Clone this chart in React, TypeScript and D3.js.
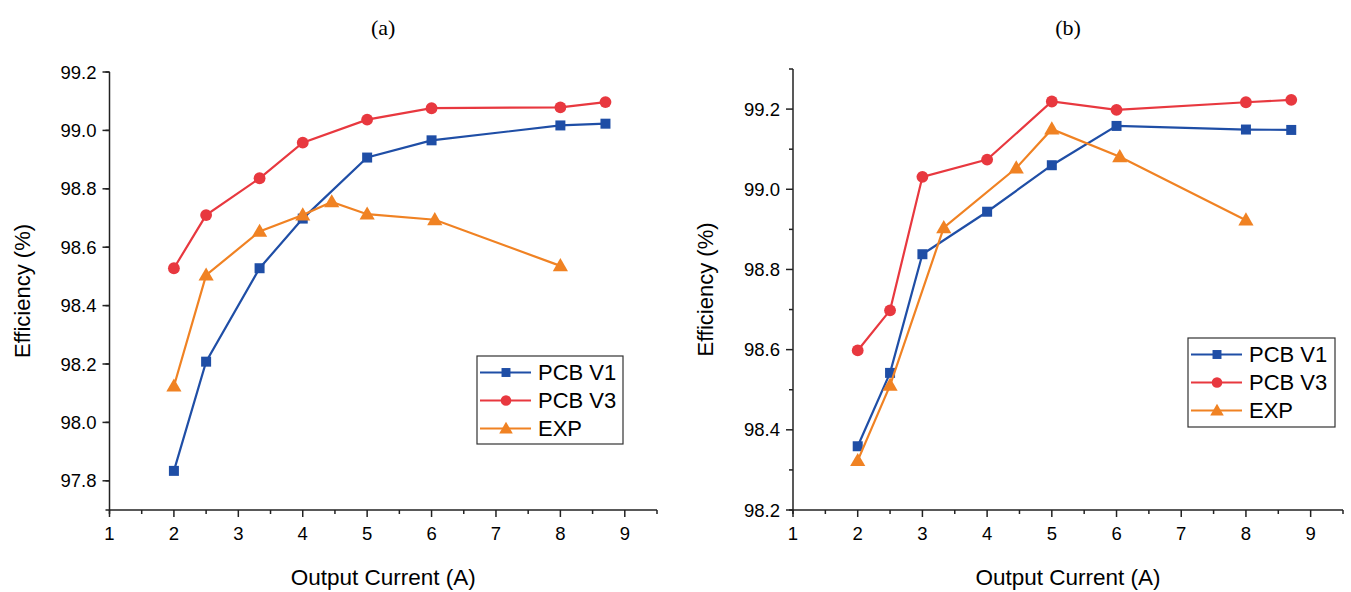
import React from "react";
import * as d3 from "d3";

// panel (a)
const aV1X = [2, 2.5, 3.33, 4, 5, 6, 8, 8.7];
const aV1Y = [97.834, 98.208, 98.528, 98.698, 98.907, 98.966, 99.017, 99.023];
const aV3X = [2, 2.5, 3.33, 4, 5, 6, 8, 8.7];
const aV3Y = [98.528, 98.71, 98.836, 98.958, 99.037, 99.076, 99.079, 99.097];
const aExpX = [2, 2.5, 3.33, 4, 4.45, 5, 6.05, 8];
const aExpY = [98.124, 98.504, 98.654, 98.71, 98.755, 98.713, 98.694, 98.536];

// panel (b)
const bV1X = [2, 2.5, 3, 4, 5, 6, 8, 8.7];
const bV1Y = [98.359, 98.542, 98.838, 98.944, 99.06, 99.158, 99.149, 99.148];
const bV3X = [2, 2.5, 3, 4, 5, 6, 8, 8.7];
const bV3Y = [98.598, 98.698, 99.031, 99.074, 99.219, 99.198, 99.217, 99.223];
const bExpX = [2, 2.5, 3.33, 4.45, 5, 6.05, 8];
const bExpY = [98.323, 98.511, 98.904, 99.053, 99.15, 99.081, 98.923];

const xTicks = [1, 2, 3, 4, 5, 6, 7, 8, 9];
const aYTicks = [97.8, 98.0, 98.2, 98.4, 98.6, 98.8, 99.0, 99.2];
const bYTicks = [98.2, 98.4, 98.6, 98.8, 99.0, 99.2];
const seriesNames = ["PCB V1", "PCB V3", "EXP"];

const BLUE = "#1f4ea6";
const RED = "#e8383f";
const ORANGE = "#f08223";
const FONT = "'Liberation Sans', Arial, sans-serif";

const shapes = [d3.symbolSquare, d3.symbolCircle, d3.symbolTriangle];
const sizes = [100, 110, 100];
const colors = [BLUE, RED, ORANGE];

const Marker = ({ i, x, y, scale = 1 }) => {
  const path = d3.symbol().type(shapes[i]).size(sizes[i] * scale)();
  const dy = i === 2 ? 1 : 0;
  return <path d={path} transform={`translate(${x},${y + dy})`} fill={colors[i]} />;
};

const Panel = ({ title, x0, x1, y0, y1, yDomain, yTicks, series, legend }) => {
  const x = d3.scaleLinear().domain([1, 9.5]).range([x0, x1]);
  const y = d3.scaleLinear().domain(yDomain).range([y0, y1]);

  const minorX = d3.range(1.5, 9.51, 1);
  const minorY = d3.range(yDomain[0] + 0.1, yDomain[1] + 0.001, 0.2);

  const line = d3
    .line()
    .x((d) => x(d[0]))
    .y((d) => y(d[1]));

  const cx = (x0 + x1) / 2;

  return (
    <g>
      <text x={cx} y={35} textAnchor="middle" fontFamily="'Liberation Serif', 'Times New Roman', serif" fontSize={22}>
        {title}
      </text>

      {/* axes */}
      <line x1={x0 - 4} x2={x1} y1={y0} y2={y0} stroke="#222" strokeWidth={1.5} />
      <line x1={x0} x2={x0} y1={y0 + 4} y2={y1} stroke="#222" strokeWidth={1.5} />

      {xTicks.map((t) => (
        <g key={"xt" + t}>
          <line x1={x(t)} x2={x(t)} y1={y0} y2={y0 + 7} stroke="#222" strokeWidth={1.5} />
          <text x={x(t)} y={540} textAnchor="middle" fontFamily={FONT} fontSize={18.5}>
            {t}
          </text>
        </g>
      ))}
      {minorX.map((t) => (
        <line key={"xm" + t} x1={x(t)} x2={x(t)} y1={y0} y2={y0 + 4} stroke="#222" strokeWidth={1.5} />
      ))}

      {yTicks.map((t) => (
        <g key={"yt" + t}>
          <line x1={x0 - 7} x2={x0} y1={y(t)} y2={y(t)} stroke="#222" strokeWidth={1.5} />
          <text x={x0 - 13} y={y(t)} dy="0.36em" textAnchor="end" fontFamily={FONT} fontSize={18.5}>
            {t.toFixed(1)}
          </text>
        </g>
      ))}
      {minorY.map((t) => (
        <line key={"ym" + t} x1={x0 - 4} x2={x0} y1={y(t)} y2={y(t)} stroke="#222" strokeWidth={1.5} />
      ))}

      {/* series */}
      {series.map((s, i) => {
        const pts = s.xs.map((v, k) => [v, s.ys[k]]);
        return (
          <g key={"s" + i}>
            <path d={line(pts)} fill="none" stroke={colors[i]} strokeWidth={2.2} />
            {pts.map((p, k) => (
              <Marker key={k} i={i} x={x(p[0])} y={y(p[1])} />
            ))}
          </g>
        );
      })}

      {/* legend */}
      <rect x={legend.x} y={legend.y} width={legend.w} height={legend.h} fill="white" stroke="#333" strokeWidth={1.2} />
      {seriesNames.map((name, i) => {
        const ly = legend.y + 16.5 + i * 28;
        return (
          <g key={name}>
            <line x1={legend.x + 3} x2={legend.x + 54} y1={ly} y2={ly} stroke={colors[i]} strokeWidth={2.2} />
            <Marker i={i} x={legend.x + 29} y={ly} scale={0.8} />
            <text x={legend.x + 61} y={ly} dy="0.36em" fontFamily={FONT} fontSize={22}>
              {name}
            </text>
          </g>
        );
      })}

      <text x={cx} y={585} textAnchor="middle" fontFamily={FONT} fontSize={22.5}>
        Output Current (A)
      </text>
      <text
        transform={`translate(${x0 - 80},${(y0 + y1) / 2}) rotate(-90)`}
        textAnchor="middle"
        fontFamily={FONT}
        fontSize={22}
      >
        Efficiency (%)
      </text>
    </g>
  );
};

export default function App() {
  return (
    <svg width={1351} height={592} style={{ position: "absolute", left: 0, top: 0, background: "white" }}>
      <Panel
        title="(a)"
        x0={109.5}
        x1={657}
        y0={510}
        y1={72}
        yDomain={[97.7, 99.2]}
        yTicks={aYTicks}
        series={[
          { xs: aV1X, ys: aV1Y },
          { xs: aV3X, ys: aV3Y },
          { xs: aExpX, ys: aExpY },
        ]}
        legend={{ x: 477, y: 356, w: 146, h: 88 }}
      />
      <Panel
        title="(b)"
        x0={793}
        x1={1343}
        y0={510}
        y1={69}
        yDomain={[98.2, 99.3]}
        yTicks={bYTicks}
        series={[
          { xs: bV1X, ys: bV1Y },
          { xs: bV3X, ys: bV3Y },
          { xs: bExpX, ys: bExpY },
        ]}
        legend={{ x: 1188, y: 338, w: 147, h: 89 }}
      />
    </svg>
  );
}
